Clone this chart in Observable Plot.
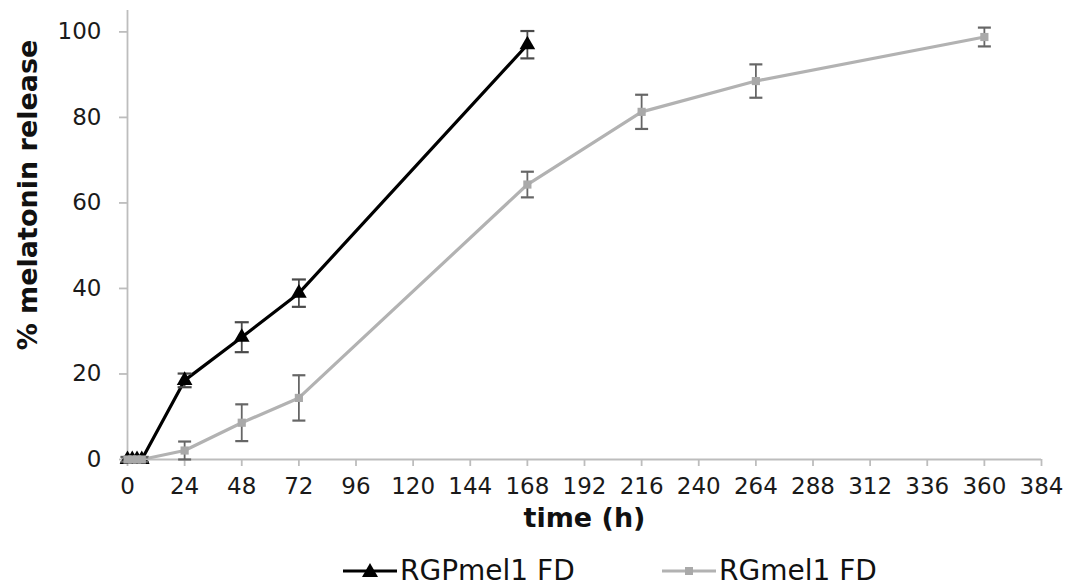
<!DOCTYPE html>
<html>
<head>
<meta charset="utf-8">
<script src="https://cdn.jsdelivr.net/npm/d3@7"></script>
<script src="https://cdn.jsdelivr.net/npm/@observablehq/plot@0.6"></script>
<style>
  html, body { margin: 0; padding: 0; background: #fff; overflow: hidden; }
  #wrap { width: 1068px; height: 588px; position: relative; font-family: "DejaVu Sans", Verdana, sans-serif; }
  #legend { position: absolute; left: 0; top: 556px; width: 1068px; height: 30px; }
  .item { position: absolute; top: 0; display: flex; align-items: center; font-size: 28px; line-height: 30px; color: #111; height: 30px; }
  .item svg { margin-right: 3px; }
</style>
</head>
<body>
<div id="wrap">
  <div id="chart"></div>
  <div id="legend"></div>
</div>
<script>
// ---- data ----
const seriesNames = ["RGPmel1 FD", "RGmel1 FD"];
const timesA = [0, 2, 4, 6, 24, 48, 72, 168];
const releaseA = [0, 0, 0, 0, 18.5, 28.6, 38.9, 97.0];
const errA = [0.6, 0.6, 0.6, 0.6, 1.6, 3.5, 3.2, 3.2];
const timesB = [0, 2, 4, 6, 24, 48, 72, 168, 216, 264, 360];
const releaseB = [0, 0, 0, 0, 2.1, 8.6, 14.4, 64.3, 81.3, 88.5, 98.8];
const errB = [0.5, 0.5, 0.5, 0.5, 2.1, 4.3, 5.3, 3.0, 4.0, 3.9, 2.2];
const xTicks = [0, 24, 48, 72, 96, 120, 144, 168, 192, 216, 240, 264, 288, 312, 336, 360, 384];
const yTicks = [0, 20, 40, 60, 80, 100];

const A = timesA.map((t, i) => ({t, y: releaseA[i], e: errA[i]}));
const B = timesB.map((t, i) => ({t, y: releaseB[i], e: errB[i]}));

const axisGray = "#bdbdbd";
const blackC = "#000000";
const grayLine = "#b2b2b2";
const grayMark = "#a9a9a9";

const cap = { draw(ctx, size) { const w = Math.sqrt(size / Math.PI); ctx.moveTo(-w, 0); ctx.lineTo(w, 0); } };

function errorMarks(data, color, capR) {
  return [
    Plot.ruleX(data, {x: "t", y1: d => d.y - d.e, y2: d => d.y + d.e, stroke: color, strokeWidth: 1.8}),
    Plot.dot(data, {x: "t", y: d => d.y + d.e, symbol: cap, r: capR, fill: "none", stroke: color, strokeWidth: 2.2}),
    Plot.dot(data, {x: "t", y: d => d.y - d.e, symbol: cap, r: capR, fill: "none", stroke: color, strokeWidth: 2.2})
  ];
}

const chart = Plot.plot({
  width: 1068,
  height: 556,
  marginLeft: 127,
  marginRight: 27,
  marginTop: 10,
  marginBottom: 97,
  style: {fontFamily: "DejaVu Sans, Verdana, sans-serif", color: "#222", background: "#fff"},
  x: {domain: [0, 384]},
  y: {domain: [0, 105]},
  marks: [
    Plot.ruleX([0], {stroke: axisGray, strokeWidth: 1.8}),
    Plot.ruleY([0], {stroke: axisGray, strokeWidth: 1.8}),
    Plot.axisX({ticks: xTicks, tickSize: 7, tickPadding: 11, stroke: axisGray, strokeWidth: 1.8, fontSize: 23, fill: "#1a1a1a", label: null}),
    Plot.axisY({ticks: yTicks, tickSize: 8, tickPadding: 18, stroke: axisGray, strokeWidth: 1.8, fontSize: 23, fill: "#1a1a1a", label: null}),
    Plot.text(["time (h)"], {frameAnchor: "bottom", dy: 67, fontSize: 27, fontWeight: "bold", fill: "#111"}),
    Plot.text(["% melatonin release"], {frameAnchor: "left", textAnchor: "middle", dx: -99, dy: -40, rotate: -90, fontSize: 27, fontWeight: "bold", fill: "#111"}),
    // black series
    Plot.line(A, {x: "t", y: "y", stroke: blackC, strokeWidth: 3.2}),
    ...errorMarks(A, "#4a4a4a", 7),
    Plot.dot(A, {x: "t", y: "y", symbol: "triangle2", r: 7.5, fill: blackC}),
    // gray series
    Plot.line(B, {x: "t", y: "y", stroke: grayLine, strokeWidth: 3.2}),
    ...errorMarks(B, "#666666", 6.5),
    Plot.dot(B, {x: "t", y: "y", symbol: "square2", r: 5.2, fill: grayMark})
  ]
});
document.getElementById("chart").appendChild(chart);

// ---- legend ----
const legend = document.getElementById("legend");
const items = [
  {name: seriesNames[0], left: 343, line: blackC, shape: "tri", fill: blackC},
  {name: seriesNames[1], left: 662, line: grayLine, shape: "sq", fill: grayMark}
];
for (const it of items) {
  const div = document.createElement("div");
  div.className = "item";
  div.style.left = it.left + "px";
  const ns = "http://www.w3.org/2000/svg";
  const s = document.createElementNS(ns, "svg");
  s.setAttribute("width", 54); s.setAttribute("height", 20);
  const l = document.createElementNS(ns, "line");
  l.setAttribute("x1", 0); l.setAttribute("x2", 54); l.setAttribute("y1", 10); l.setAttribute("y2", 10);
  l.setAttribute("stroke", it.line); l.setAttribute("stroke-width", 3.2);
  s.appendChild(l);
  const p = document.createElementNS(ns, "path");
  p.setAttribute("d", it.shape === "tri" ? "M27,2L35,16L19,16Z" : "M23,6H31V14H23Z");
  p.setAttribute("fill", it.fill);
  s.appendChild(p);
  div.appendChild(s);
  const span = document.createElement("span");
  span.textContent = it.name;
  div.appendChild(span);
  legend.appendChild(div);
}
</script>
</body>
</html>
